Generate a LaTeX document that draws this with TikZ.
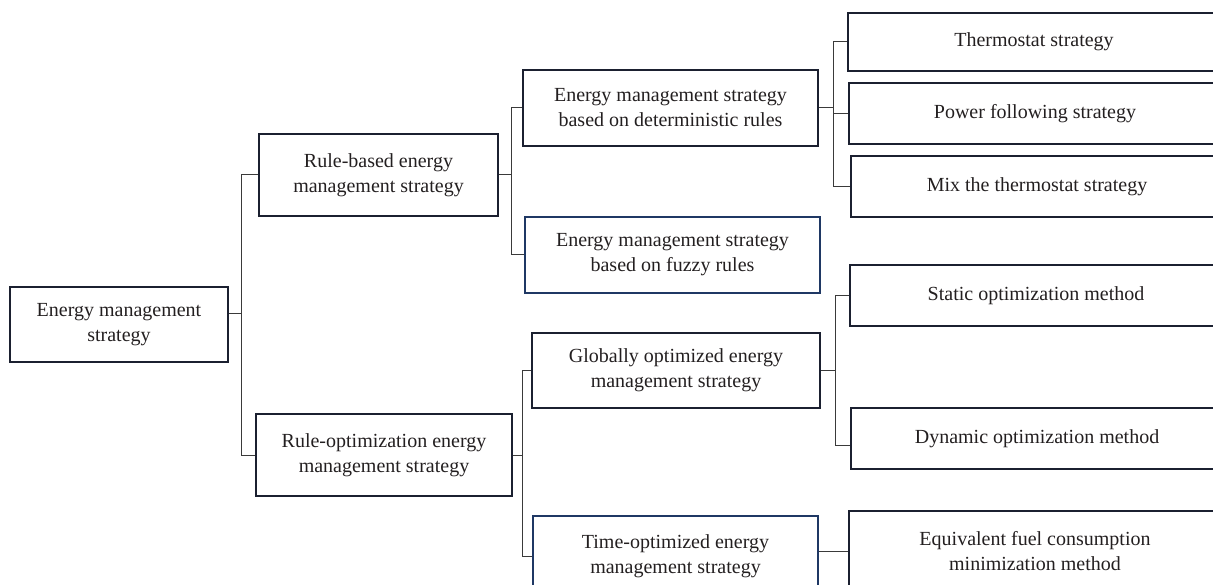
\documentclass[tikz,border=0pt]{standalone}
\usepackage{fontspec}
\setmainfont{Liberation Serif}
\usetikzlibrary{positioning}
\definecolor{boxline}{HTML}{1B2030}
\definecolor{blueline}{HTML}{1F3864}
\definecolor{inktext}{HTML}{231F20}
\definecolor{linkline}{HTML}{3A3A3A}

\begin{document}
\begin{tikzpicture}[
  x=1pt, y=-1pt,
  box/.style={draw=boxline, line width=2.5pt, align=center, inner sep=0pt,
    text=inktext, font=\fontsize{20}{25}\selectfont},
  bluebox/.style={box, draw=blueline},
  leafbox/.style={box, minimum width=372pt},
  link/.style={draw=linkline, line width=1pt},
]
  \useasboundingbox (0,0) rectangle (1213,585);

  % level 0 and 1
  \node[box, minimum width=218pt, minimum height=75pt] (root) at (119,324.5) {Energy management\\strategy};
  \node[box, minimum width=239pt, minimum height=82pt] (rule) at (378.5,175) {Rule-based energy\\management strategy};
  \node[box, minimum width=256pt, minimum height=82pt] (ropt) at (384,455) {Rule-optimization energy\\management strategy};

  % level 2
  \node[box, minimum width=295pt, minimum height=76pt] (det) at (670.5,108) {Energy management strategy\\based on deterministic rules};
  \node[bluebox, minimum width=295pt, minimum height=76pt] (fuzzy) at (672.5,255) {Energy management strategy\\based on fuzzy rules};
  \node[box, minimum width=288pt, minimum height=75pt] (glob) at (676,370.5) {Globally optimized energy\\management strategy};
  \node[bluebox, minimum width=285pt, minimum height=80pt] (time) at (675.5,556) {Time-optimized energy\\management strategy};

  % level 3 (cut off at the right edge)
  \node[leafbox, minimum height=58pt] (thermo) at (1034,42) {Thermostat strategy};
  \node[leafbox, minimum height=61pt] (power) at (1035,113.5) {Power following strategy};
  \node[leafbox, minimum height=61pt] (mix) at (1037,186.5) {Mix the thermostat strategy};
  \node[leafbox, minimum height=61pt] (static) at (1036,295.5) {Static optimization method};
  \node[leafbox, minimum height=61pt] (dyn) at (1037,438.5) {Dynamic optimization method};
  \node[leafbox, minimum height=80pt] (efcm) at (1035,551) {Equivalent fuel consumption\\minimization method};

  % bus lines
  \coordinate (busA) at (241,0);
  \coordinate (busB) at (511,0);
  \coordinate (busC) at (522,0);
  \coordinate (busD) at (833,0);
  \coordinate (busE) at (835,0);

  \draw[link] ([yshift=11pt]root.east) -- ([yshift=11pt]root.east -| busA);
  \draw[link] (rule.west -| busA) -- (rule.west);
  \draw[link] (rule.west -| busA) |- (ropt.west);

  \draw[link] (rule.east) -- (rule.east -| busB) |- (det.west);
  \draw[link] (rule.east -| busB) |- (fuzzy.west);

  \draw[link] (ropt.east) -- (ropt.east -| busC) |- (glob.west);
  \draw[link] (ropt.east -| busC) |- (time.west);

  \draw[link] (det.east) -- (det.east -| busD) |- (thermo.west);
  \draw[link] (det.east -| busD) |- (power.west);
  \draw[link] (det.east -| busD) |- (mix.west);

  \draw[link] (glob.east) -- (glob.east -| busE) |- (static.west);
  \draw[link] (glob.east -| busE) |- ([yshift=-7pt]dyn.west);

  \draw[link] (time.east |- efcm.west) -- (efcm.west);
\end{tikzpicture}
\end{document}
